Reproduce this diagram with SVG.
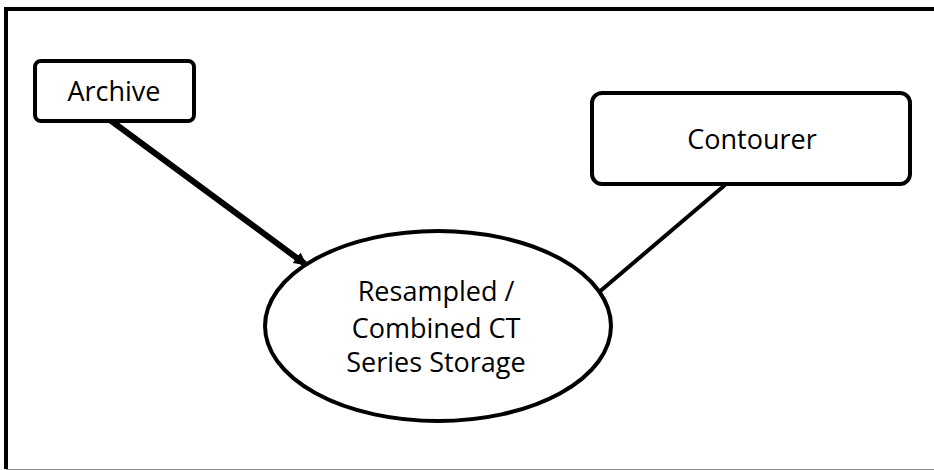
<svg xmlns="http://www.w3.org/2000/svg" width="934" height="470" viewBox="0 0 934 470">
<style>
.box{fill:#fff;stroke:#000;stroke-width:4}
.lbl{font-family:"Open Sans","Liberation Sans",sans-serif;font-size:27px;fill:#000;text-anchor:middle}
.con{stroke:#000;fill:none}
</style>
<defs>
<marker id="ah" viewBox="0 0 10 10" refX="8" refY="5" markerWidth="2.2" markerHeight="2.2" orient="auto" markerUnits="strokeWidth">
<path d="M0,0 L10,5 L0,10 z" fill="#000"/>
</marker>
</defs>
<rect x="0" y="0" width="934" height="470" fill="#fff"/>
<g id="frame">
<path d="M6,469 L6,9 L940,9" fill="none" stroke="#000" stroke-width="4"/>
<line x1="6" y1="469.5" x2="934" y2="469.5" stroke="#888" stroke-width="1"/>
</g>
<g id="connectors">
<line class="con" x1="110" y1="120" x2="305" y2="264" stroke-width="6" marker-end="url(#ah)"/>
<line class="con" x1="725" y1="185" x2="598" y2="293" stroke-width="4"/>
</g>
<g id="archive">
<rect class="box" x="35" y="61" width="159" height="60" rx="6"/>
<text class="lbl" x="114" y="101">Archive</text>
</g>
<g id="contourer">
<rect class="box" x="592" y="93" width="318" height="91" rx="10"/>
<text class="lbl" x="752" y="149">Contourer</text>
</g>
<g id="storage">
<ellipse class="box" cx="438" cy="326" rx="173" ry="95"/>
<text class="lbl" x="436" y="301">Resampled /</text>
<text class="lbl" x="436" y="338">Combined CT</text>
<text class="lbl" x="436" y="372">Series Storage</text>
</g>
</svg>
